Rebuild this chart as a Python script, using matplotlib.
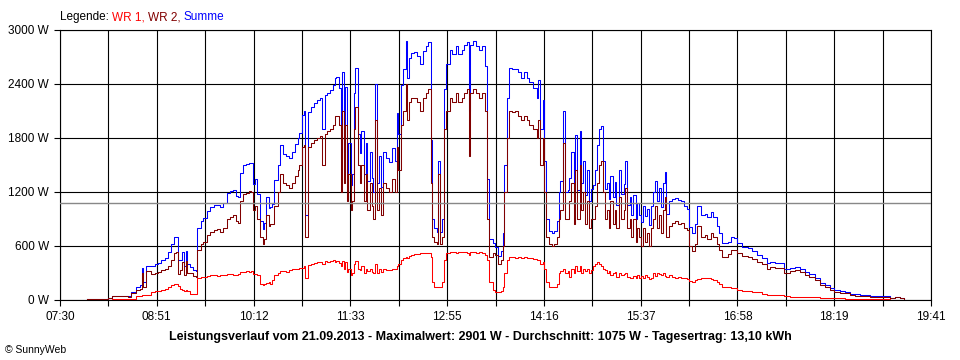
import numpy as np
import matplotlib
matplotlib.use("Agg")
import matplotlib.pyplot as plt

plt.rcParams['font.family'] = ['Liberation Sans', 'DejaVu Sans']

# Minuten ab 07:30, Leistung in W
minuten = [23, 34, 40, 44, 50, 57, 60, 64, 67, 69, 70, 72, 76, 80, 82, 85, 88, 91, 93, 96,
           97, 99, 101, 102, 104, 106, 107, 109, 112, 114, 115, 118, 120, 123, 126, 129, 132, 134, 137, 140,
           143, 145, 148, 149, 151, 154, 156, 159, 160, 162, 164, 165, 168, 170, 171, 173, 175, 176, 178, 180,
           183, 185, 187, 190, 192, 195, 197, 200, 201, 203, 205, 206, 208, 211, 213, 216, 218, 220, 222, 224,
           227, 229, 231, 232, 234, 236, 237, 238, 239, 241, 242, 244, 245, 247, 248, 250, 252, 253, 255, 257,
           258, 260, 262, 263, 264, 266, 268, 269, 271, 274, 276, 279, 281, 283, 284, 286, 288, 290, 291, 293,
           295, 297, 300, 302, 305, 307, 309, 311, 312, 314, 316, 317, 319, 321, 322, 324, 327, 329, 332, 334,
           337, 339, 342, 343, 344, 347, 349, 352, 354, 357, 358, 360, 363, 365, 368, 370, 372, 373, 375, 377,
           379, 382, 384, 387, 389, 392, 394, 397, 400, 401, 403, 405, 406, 408, 410, 413, 415, 417, 419, 420,
           422, 424, 426, 427, 429, 431, 432, 434, 436, 437, 439, 441, 442, 444, 446, 447, 449, 451, 452, 454,
           456, 457, 459, 461, 462, 464, 466, 467, 469, 471, 473, 474, 476, 478, 479, 481, 483, 484, 486, 488,
           489, 491, 493, 494, 496, 498, 499, 501, 503, 504, 506, 508, 509, 511, 514, 516, 519, 521, 524, 526,
           528, 530, 533, 535, 538, 541, 543, 546, 548, 551, 553, 556, 558, 561, 563, 566, 568, 572, 577, 581,
           585, 589, 593, 596, 600, 604, 608, 613, 617, 621, 625, 629, 634, 638, 642, 646, 650, 655, 659, 663,
           667, 671, 676, 680, 684, 688, 692, 697, 701, 705, 708]

wr1 = [0, 0, 5, 8, 8, 10, 15, 40, 50, 55, 55, 60, 90, 95, 100, 110, 120, 150, 170, 178,
       175, 160, 120, 110, 100, 110, 100, 70, 65, 65, 240, 255, 260, 270, 275, 280, 270, 275, 280, 285,
       290, 280, 275, 290, 310, 315, 320, 310, 320, 290, 290, 280, 180, 170, 175, 190, 200, 180, 220, 280,
       300, 320, 320, 315, 330, 340, 350, 350, 360, 360, 380, 250, 390, 400, 410, 420, 420, 400, 430, 420,
       430, 440, 420, 430, 410, 380, 430, 340, 420, 310, 350, 280, 300, 400, 430, 350, 330, 380, 300, 350,
       320, 340, 310, 300, 400, 300, 350, 310, 340, 330, 330, 340, 350, 380, 400, 440, 470, 480, 470, 490,
       500, 510, 510, 520, 520, 520, 520, 480, 200, 150, 140, 150, 140, 200, 450, 520, 530, 530, 525, 530,
       530, 530, 520, 500, 530, 530, 525, 530, 520, 500, 450, 200, 110, 90, 85, 100, 150, 300, 450, 480,
       480, 470, 480, 470, 480, 470, 470, 460, 440, 440, 400, 420, 350, 200, 150, 140, 145, 180, 300, 320,
       350, 300, 320, 260, 350, 300, 380, 320, 380, 300, 350, 320, 340, 300, 330, 380, 400, 420, 400, 380,
       350, 330, 300, 320, 280, 300, 310, 260, 300, 280, 290, 300, 260, 250, 240, 270, 250, 280, 240, 270,
       250, 280, 260, 230, 250, 300, 270, 300, 290, 280, 300, 270, 260, 280, 260, 250, 260, 240, 240, 230,
       210, 200, 220, 230, 250, 240, 240, 230, 220, 200, 180, 150, 150, 140, 135, 130, 115, 100, 100, 90,
       85, 70, 60, 55, 55, 55, 40, 35, 35, 35, 33, 30, 30, 22, 22, 20, 20, 20, 12, 12,
       12, 12, 12, 10, 10, 10, 10, 0, 0, 0, 0]

wr2 = [10, 12, 20, 40, 40, 38, 75, 110, 120, 300, 150, 320, 290, 300, 310, 330, 350, 380, 450, 520,
       530, 290, 330, 420, 280, 430, 300, 300, 270, 260, 560, 620, 650, 720, 760, 780, 790, 760, 800, 900,
       920, 940, 880, 860, 1100, 1180, 1190, 1210, 1200, 1000, 1050, 900, 700, 620, 680, 950, 820, 850, 850, 1050,
       1200, 1400, 1300, 1280, 1250, 1300, 1380, 1450, 1500, 1700, 1720, 700, 1700, 1750, 1780, 1800, 1820, 1500, 1850, 1880,
       1900, 1950, 2050, 2050, 1950, 1200, 2100, 1300, 1950, 1100, 1400, 1000, 1100, 1900, 2150, 1500, 1300, 1500, 1100, 1400,
       1000, 1300, 1050, 900, 2000, 1000, 1250, 950, 1300, 1250, 1200, 1350, 1200, 1700, 1450, 1950, 2100, 2400, 2000, 2200,
       2250, 2250, 2200, 2100, 2250, 2300, 2350, 1300, 700, 650, 620, 1400, 620, 700, 1900, 2100, 2250, 2200, 2300, 2200,
       2250, 2300, 2350, 1600, 2300, 2350, 2300, 2250, 2300, 2100, 900, 480, 520, 500, 400, 450, 600, 1200, 1800, 2100,
       2090, 2100, 2050, 2000, 2050, 2000, 1950, 1900, 1800, 2000, 1500, 1800, 1200, 700, 620, 600, 620, 700, 900, 1000,
       1750, 900, 900, 1100, 1300, 850, 1450, 900, 1500, 1000, 1200, 850, 1100, 800, 900, 900, 1050, 1300, 1500, 1550,
       1200, 900, 1000, 800, 1100, 850, 1000, 800, 1150, 900, 1000, 1250, 800, 900, 700, 900, 650, 800, 700, 600,
       800, 650, 750, 600, 800, 900, 1050, 800, 950, 750, 1000, 1150, 700, 820, 860, 880, 850, 860, 800, 780,
       600, 550, 620, 820, 700, 720, 680, 750, 700, 620, 560, 480, 480, 510, 560, 560, 520, 490, 480, 460,
       420, 400, 350, 370, 360, 360, 300, 320, 330, 310, 280, 260, 220, 170, 140, 110, 90, 80, 75, 60,
       50, 45, 40, 35, 35, 30, 30, 25, 30, 20, 15]

summe = np.array(wr1) + np.array(wr2)

datum = "21.09.2013"
maximalwert = 2901
durchschnitt = 1075
tagesertrag = "13,10"

x_labels = ["07:30", "08:51", "10:12", "11:33", "12:55", "14:16", "15:37", "16:58", "18:19", "19:41"]
y_werte = [0, 600, 1200, 1800, 2400, 3000]

fig = plt.figure(figsize=(9.6, 3.6), dpi=100)
ax = fig.add_axes([60 / 960, 60 / 360, 871 / 960, 270 / 360])

ax.plot(minuten, summe, color='#0000ff', lw=0.75, drawstyle='steps-post', zorder=3)
ax.plot(minuten, wr2, color='#800000', lw=0.75, drawstyle='steps-post', zorder=3)
ax.plot(minuten, wr1, color='#ff0000', lw=0.75, drawstyle='steps-post', zorder=3)
ax.axhline(durchschnitt, color='#888888', lw=1, zorder=4)

ax.set_xlim(0, 731)
ax.set_ylim(0, 3000)
ticks = np.linspace(0, 731, 19)
ax.set_xticks(ticks)
lab = []
for i in range(19):
    lab.append(x_labels[i // 2] if i % 2 == 0 else "")
ax.set_xticklabels(lab, fontsize=8.5)
ax.set_yticks(y_werte)
ax.set_yticklabels([str(v) + " W" for v in y_werte], fontsize=8.5)
ax.tick_params(length=4, width=0.8, color='black', pad=4)
ax.grid(True, color='black', lw=0.8, zorder=1)
ax.set_axisbelow(True)
for s in ax.spines.values():
    s.set_color('black')
    s.set_linewidth(0.8)

# Legende oben links
t = fig.text(60 / 960, 1 - 20 / 360, "Legende: ", fontsize=8.5, va='baseline')
t = ax.annotate("WR 1, ", xy=(1, 0), xycoords=t, va='bottom', fontsize=8.5, color='#ff0000')
t = ax.annotate("WR 2, ", xy=(1, 0), xycoords=t, va='bottom', fontsize=8.5, color='#800000')
t = ax.annotate("Summe", xy=(1, 0), xycoords=t, va='bottom', fontsize=8.5, color='#0000ff')

fig.text(0.5, 1 - 337 / 360,
         "Leistungsverlauf vom %s - Maximalwert: %d W - Durchschnitt: %d W - Tagesertrag: %s kWh"
         % (datum, maximalwert, durchschnitt, tagesertrag),
         ha='center', va='center', fontsize=9, fontweight='bold')
fig.text(5 / 960, 1 - 350 / 360, "© SunnyWeb", fontsize=7.5, va='center')

fig.savefig("out.png", dpi=100)
